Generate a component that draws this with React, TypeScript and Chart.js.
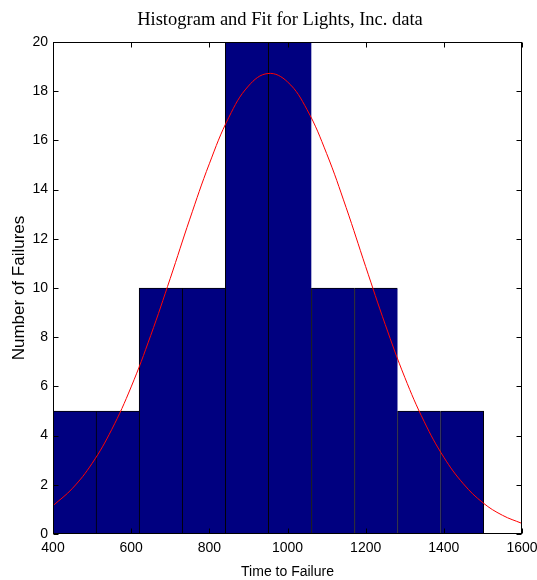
import React, { useEffect, useRef } from "react";
import { Chart, registerables } from "chart.js";

Chart.register(...registerables);

const TITLE = "Histogram and Fit for Lights, Inc. data";
const X_LABEL = "Time to Failure";
const Y_LABEL = "Number of Failures";

// histogram bin centers (bin width ~110.2) and counts
const binCenters = [455.1, 565.3, 675.5, 785.7, 895.9, 1006.1, 1116.3, 1226.5, 1336.7, 1446.9];
const binCounts = [5, 5, 10, 10, 20, 20, 10, 10, 5, 5];

// fitted curve
const fitX = [400, 450, 500, 550, 600, 650, 700, 750, 800, 850, 900, 950, 1000, 1050, 1100, 1150, 1200, 1250, 1300, 1350, 1400, 1450, 1500, 1550, 1600];
const fitY = [1.15, 1.86, 2.87, 4.24, 5.98, 8.07, 10.39, 12.8, 15.05, 16.94, 18.21, 18.72, 18.38, 17.25, 15.47, 13.27, 10.87, 8.52, 6.37, 4.56, 3.12, 2.04, 1.27, 0.76, 0.43];

const SANS = "'Liberation Sans', Arial, Helvetica, sans-serif";

const framePlugin = {
  id: "frame",
  afterDatasetsDraw(chart: any) {
    const { ctx, chartArea: a, scales } = chart;
    ctx.save();
    ctx.strokeStyle = "#000";
    ctx.lineWidth = 1;
    const L = Math.round(a.left) + 0.5;
    const R = Math.round(a.right) - 0.5;
    const T = Math.round(a.top) + 0.5;
    const B = Math.round(a.bottom) - 0.5;
    ctx.beginPath();
    const tl = 5;
    scales.x.ticks.forEach((t: any) => {
      const px = Math.round(scales.x.getPixelForValue(t.value)) + 0.5;
      ctx.moveTo(px, B);
      ctx.lineTo(px, B - tl);
      ctx.moveTo(px, T);
      ctx.lineTo(px, T + tl);
    });
    scales.y.ticks.forEach((t: any) => {
      const py = Math.round(scales.y.getPixelForValue(t.value)) + 0.5;
      ctx.moveTo(L, py);
      ctx.lineTo(L + tl, py);
      ctx.moveTo(R, py);
      ctx.lineTo(R - tl, py);
    });
    ctx.stroke();
    ctx.strokeRect(L, T, R - L, B - T);
    ctx.restore();
  },
  afterDraw(chart: any) {
    const { ctx } = chart;
    ctx.save();
    ctx.fillStyle = "#000";
    ctx.font = "18.5px 'Liberation Serif', 'Times New Roman', serif";
    ctx.textAlign = "center";
    ctx.textBaseline = "alphabetic";
    ctx.fillText(TITLE, 280, 25);
    ctx.restore();
  },
};

export default function App() {
  const ref = useRef<HTMLCanvasElement | null>(null);
  useEffect(() => {
    if (!ref.current) return;
    const last = binCounts.length - 1;
    const chart = new Chart(ref.current, {
      type: "bar",
      data: {
        datasets: [
          {
            type: "line",
            data: fitX.map((x, i) => ({ x, y: fitY[i] })),
            borderColor: "#ff0000",
            borderWidth: 1,
            pointRadius: 0,
            tension: 0.4,
            fill: false,
            order: 0,
          } as any,
          {
            type: "bar",
            data: binCenters.map((x, i) => ({ x, y: binCounts[i] })),
            backgroundColor: "#000080",
            borderColor: "#000000",
            borderSkipped: false,
            borderWidth: (c: any) => ({ top: 1, left: 1, bottom: 0, right: c.dataIndex === last ? 1 : 0 }),
            barPercentage: 1,
            categoryPercentage: 1,
            order: 1,
          } as any,
        ],
      },
      options: {
        animation: false,
        responsive: false,
        layout: { padding: { top: 42, right: 15, left: 0, bottom: 0 } },
        plugins: { legend: { display: false }, tooltip: { enabled: false }, title: { display: false } },
        scales: {
          x: {
            type: "linear",
            min: 400,
            max: 1600,
            offset: false,
            grid: { display: false, drawTicks: false },
            border: { display: false },
            ticks: { stepSize: 200, padding: 6, color: "#000", font: { family: SANS, size: 14 }, maxRotation: 0, callback: (v: any) => String(v) },
            title: { display: true, text: X_LABEL, color: "#000", font: { family: SANS, size: 14, lineHeight: 1 }, padding: { top: 0, bottom: 1 } },
            afterFit: (s: any) => { s.height = 46; s.paddingLeft = 0; s.paddingRight = 0; },
          },
          y: {
            type: "linear",
            min: 0,
            max: 20,
            grid: { display: false, drawTicks: false },
            border: { display: false },
            ticks: { stepSize: 2, padding: 5, color: "#000", font: { family: SANS, size: 14 }, callback: (v: any) => String(v) },
            title: { display: true, text: Y_LABEL, color: "#000", font: { family: SANS, size: 17, lineHeight: 1.2 }, padding: { top: 9, bottom: 0 } },
            afterFit: (s: any) => { s.width = 53; s.paddingTop = 0; s.paddingBottom = 0; },
          },
        },
      } as any,
      plugins: [framePlugin],
    });
    return () => chart.destroy();
  }, []);
  return (
    <div style={{ position: "fixed", left: 0, top: 0, width: 537, height: 580, background: "#fff" }}>
      <canvas ref={ref} width={537} height={580} />
    </div>
  );
}
